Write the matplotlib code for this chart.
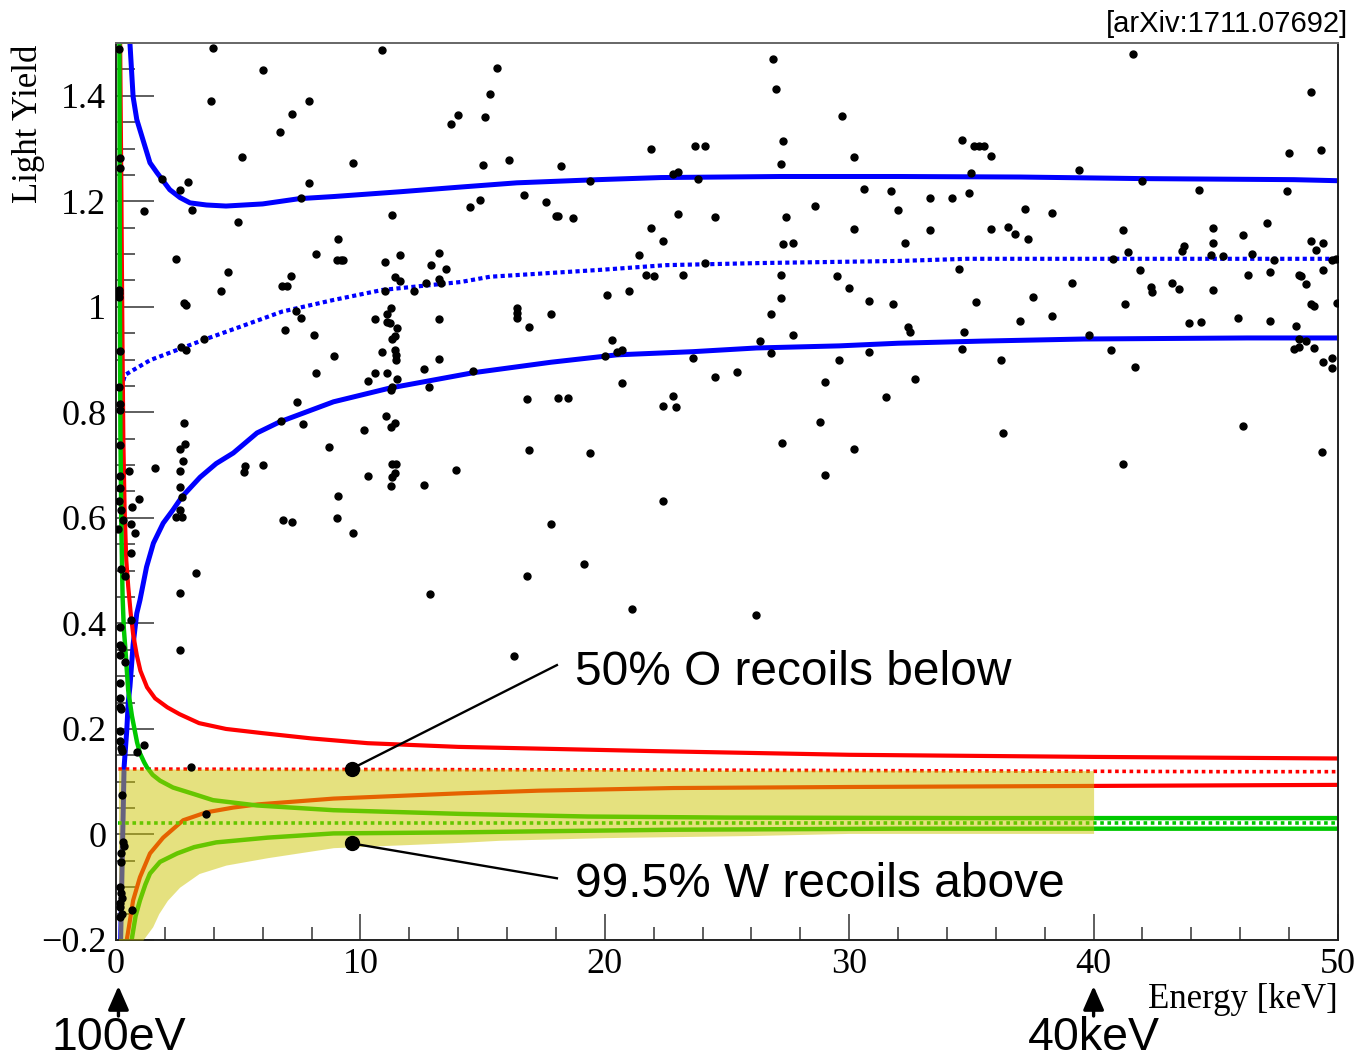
import matplotlib
matplotlib.use('Agg')
import matplotlib.pyplot as plt
from matplotlib.ticker import MultipleLocator, FuncFormatter

# ---------------- data ----------------
energy = [
    # zero-energy column
    0.12, 0.16, 0.16, 0.12, 0.12, 0.12, 0.16, 0.12, 0.16, 0.16, 0.16, 0.16, 0.16, 0.12, 0.20, 0.29,
    0.08, 0.20, 0.37, 0.16, 0.16, 0.25, 0.37, 0.16, 0.16, 0.16, 0.16, 0.20, 0.16, 0.16, 0.20, 0.25,
    0.25, 0.29, 0.33, 0.20, 0.20, 0.16, 0.20, 0.25, 0.16, 0.16, 0.25, 0.16,
    # near zero
    0.55, 0.95, 0.64, 0.60, 0.78, 0.60, 0.60, 1.60, 0.86, 1.15, 0.64, 1.14, 3.07, 3.68,
    # 2-6 keV
    2.78, 2.83, 2.63, 2.74, 2.60, 2.63, 2.70, 2.63, 2.45, 2.70, 3.27, 2.63, 2.63,
    2.78, 2.86, 2.66, 2.86, 3.60, 2.47, 1.88, 2.60, 2.95, 3.10, 3.97, 3.89, 4.30, 4.58,
    4.98, 5.15, 6.00, 5.28, 5.24, 6.00,
    # 6-14 keV
    6.70, 7.20, 7.90, 7.90, 7.55, 9.70, 10.9, 9.10, 8.20, 9.05, 9.20, 9.30, 11.0, 11.6, 13.2, 12.9,
    13.5, 7.16, 6.80, 7.00, 11.4, 11.6, 11.0, 12.2, 12.7, 13.2, 13.3, 7.37, 7.57, 11.25, 11.1, 11.1,
    11.2, 11.5, 10.6, 13.2, 6.90, 8.10, 11.4, 11.3, 11.4, 11.45, 11.45, 10.9, 8.90, 13.2, 8.20, 10.6,
    11.1, 12.6, 10.3, 11.5, 11.25, 11.3, 12.8, 11.3, 13.7, 14.0,
    6.75, 7.40, 7.65, 6.85, 7.20, 8.70, 9.10, 9.05, 9.70, 10.15, 10.3, 11.05, 11.25, 11.4, 11.25,
    11.3, 11.45, 11.3, 11.4, 12.6, 12.85, 13.9,
    # 14-32 keV
    26.9, 15.6, 27.0, 15.3, 15.1, 29.7, 21.9, 23.7, 24.1, 27.3, 30.2, 15.0, 16.1, 18.2, 27.2, 19.4,
    22.8, 23.0, 23.8, 30.6, 31.7, 32.0, 14.5, 14.9, 16.7, 17.6, 18.0, 18.1, 18.7, 28.6, 23.0, 24.5,
    27.4, 21.9, 30.2, 22.4, 27.3, 27.7, 21.4, 24.1, 21.7, 22.0, 23.2, 27.2, 29.5, 30.0, 20.1, 21.0,
    27.2, 30.8, 31.8, 16.4, 16.4, 16.4, 17.8, 16.9, 26.8, 27.7, 20.3, 20.5, 20.7, 26.35, 26.8, 20.0,
    23.6, 30.8, 29.6, 14.6, 24.5, 25.4, 29.0, 20.7, 22.8, 31.5, 16.8, 18.1, 18.5, 22.4, 22.9, 28.8,
    27.25, 30.2, 16.9, 19.4, 29.0, 22.4, 17.8, 19.15, 16.8, 21.1, 26.2, 16.3,
    # 32-50 keV
    41.6, 48.9, 49.3, 48.0, 34.6, 35.1, 35.3, 35.5, 35.8, 39.4, 35.0, 42.0, 47.9, 44.3, 33.3, 34.2,
    34.9, 37.2, 38.3, 33.3, 35.8, 36.5, 36.8, 37.3, 32.3, 41.2, 44.9, 47.1, 44.9, 46.1, 48.9, 49.4,
    41.4, 43.7, 43.6, 49.1, 44.8, 45.3, 46.5, 47.4, 49.75, 49.9, 40.8, 34.5, 41.9, 46.3, 47.2, 48.4,
    48.5, 49.4, 48.7, 39.1, 42.35, 42.4, 43.2, 43.5, 44.9, 35.2, 37.5, 41.3, 48.9, 49.0, 49.96, 37.0,
    38.3, 43.9, 44.4, 45.9, 47.2, 48.3, 32.4, 32.5, 34.7, 39.8, 34.6, 36.2, 40.7, 48.2, 48.4, 48.4,
    48.7, 49.0, 49.4, 49.75, 49.75, 41.7, 32.7, 36.3, 41.2, 46.1, 49.35,
]
light_yield = [
    1.489, 1.282, 1.263, 1.032, 1.026, 1.019, 0.916, 0.848, 0.816, 0.804, 0.738, 0.679, 0.656, 0.632, 0.615, 0.596,
    0.579, 0.503, 0.490, 0.393, 0.359, 0.353, 0.326, 0.340, 0.287, 0.258, 0.241, 0.237, 0.197, 0.178, 0.163, 0.159,
    0.074, -0.015, -0.021, -0.036, -0.053, -0.100, -0.110, -0.120, -0.129, -0.138, -0.150, -0.157,
    0.689, 0.636, 0.620, 0.588, 0.571, 0.533, 0.406, 0.694, 0.156, 0.169, -0.144, 1.182, 0.127, 0.038,
    0.780, 0.740, 0.730, 0.708, 0.689, 0.658, 0.639, 0.615, 0.601, 0.601, 0.495, 0.457, 0.349,
    1.007, 1.004, 0.924, 0.918, 0.939, 1.091, 1.242, 1.222, 1.237, 1.184, 1.491, 1.391, 1.030, 1.066,
    1.161, 1.283, 1.448, 0.698, 0.687, 0.700,
    1.332, 1.366, 1.391, 1.235, 1.207, 1.273, 1.487, 1.129, 1.100, 1.089, 1.089, 1.089, 1.085, 1.098, 1.102, 1.080,
    1.072, 1.059, 1.040, 1.040, 1.057, 1.049, 1.030, 1.030, 1.045, 1.053, 1.045, 0.992, 0.979, 0.998, 0.987, 0.971,
    0.969, 0.960, 0.977, 0.977, 0.956, 0.947, 0.945, 0.939, 0.918, 0.909, 0.899, 0.914, 0.907, 0.901, 0.875, 0.875,
    0.875, 0.882, 0.859, 0.863, 0.842, 0.848, 0.848, 1.174, 1.347, 1.364,
    0.784, 0.820, 0.778, 0.596, 0.592, 0.734, 0.641, 0.600, 0.571, 0.766, 0.679, 0.793, 0.772, 0.780, 0.660,
    0.702, 0.702, 0.677, 0.685, 0.662, 0.455, 0.691,
    1.470, 1.453, 1.412, 1.404, 1.360, 1.362, 1.300, 1.305, 1.305, 1.315, 1.283, 1.269, 1.279, 1.267, 1.271, 1.239,
    1.252, 1.256, 1.243, 1.224, 1.220, 1.184, 1.190, 1.203, 1.212, 1.199, 1.172, 1.172, 1.169, 1.191, 1.176, 1.171,
    1.171, 1.150, 1.148, 1.124, 1.119, 1.121, 1.098, 1.083, 1.061, 1.059, 1.061, 1.061, 1.059, 1.036, 1.023, 1.030,
    1.017, 1.011, 1.005, 0.998, 0.988, 0.979, 0.987, 0.962, 0.987, 0.947, 0.937, 0.914, 0.918, 0.935, 0.913, 0.907,
    0.903, 0.914, 0.899, 0.878, 0.867, 0.876, 0.858, 0.856, 0.831, 0.829, 0.826, 0.828, 0.828, 0.812, 0.810, 0.782,
    0.742, 0.730, 0.729, 0.723, 0.681, 0.632, 0.588, 0.512, 0.489, 0.427, 0.415, 0.338,
    1.480, 1.408, 1.298, 1.292, 1.317, 1.305, 1.305, 1.305, 1.286, 1.260, 1.254, 1.239, 1.220, 1.222, 1.207, 1.207,
    1.216, 1.186, 1.178, 1.146, 1.148, 1.152, 1.138, 1.129, 1.121, 1.146, 1.150, 1.159, 1.121, 1.136, 1.125, 1.121,
    1.104, 1.116, 1.106, 1.108, 1.098, 1.097, 1.100, 1.089, 1.089, 1.091, 1.091, 1.072, 1.070, 1.061, 1.066, 1.061,
    1.059, 1.070, 1.043, 1.045, 1.038, 1.028, 1.045, 1.034, 1.032, 1.009, 1.019, 1.005, 1.005, 1.002, 1.007, 0.973,
    0.983, 0.969, 0.971, 0.979, 0.973, 0.964, 0.962, 0.952, 0.952, 0.947, 0.920, 0.899, 0.918, 0.920, 0.924, 0.939,
    0.935, 0.922, 0.895, 0.903, 0.884, 0.886, 0.863, 0.761, 0.702, 0.774, 0.725,
]

# electron/gamma band (blue)
blue_upper_E = [0.57, 0.7, 0.85, 1.1, 1.39, 1.68, 2.2, 2.62, 3.03, 3.7, 4.5, 6.0, 7.5, 8.9, 11.6, 14.1, 16.4, 19.7, 22.3, 27.2, 32.0, 37.0, 42.0, 48.2, 50.0]
blue_upper_LY = [1.5, 1.398, 1.355, 1.317, 1.273, 1.254, 1.222, 1.207, 1.197, 1.193, 1.191, 1.195, 1.205, 1.209, 1.218, 1.227, 1.235, 1.241, 1.245, 1.247, 1.247, 1.246, 1.243, 1.241, 1.239]
blue_mean_E = [0.3, 0.37, 0.7, 1.4, 2.2, 3.56, 5.07, 6.8, 8.9, 10.9, 14.1, 15.3, 19.8, 22.5, 26.4, 32.1, 34.8, 40.0, 50.0]
blue_mean_LY = [0.860, 0.871, 0.880, 0.899, 0.913, 0.937, 0.962, 0.991, 1.013, 1.032, 1.047, 1.057, 1.070, 1.079, 1.083, 1.087, 1.091, 1.091, 1.091]
blue_lower_E = [0.19, 0.33, 0.44, 0.5, 0.57, 0.7, 0.85, 0.98, 1.25, 1.53, 1.93, 2.33, 2.7, 3.44, 4.1, 4.8, 5.77, 6.7, 8.9, 11.2, 14.6, 17.8, 20.5, 23.6, 26.2, 29.6, 32.0, 35.4, 39.6, 46.3, 50.0]
blue_lower_LY = [-0.2, 0.127, 0.197, 0.25, 0.28, 0.36, 0.419, 0.444, 0.507, 0.552, 0.590, 0.615, 0.640, 0.677, 0.703, 0.723, 0.761, 0.782, 0.820, 0.846, 0.875, 0.895, 0.909, 0.915, 0.922, 0.926, 0.931, 0.935, 0.939, 0.941, 0.941]

# oxygen recoil band (red)
red_upper_E = [0.17, 0.22, 0.26, 0.30, 0.35, 0.42, 0.50, 0.60, 0.70, 0.85, 1.0, 1.27, 1.6, 2.1, 2.6, 3.4, 4.5, 6.0, 8.0, 10.3, 14.0, 17.0, 22.0, 30.0, 40.0, 50.0]
red_upper_LY = [1.5, 1.216, 0.96, 0.75, 0.62, 0.52, 0.47, 0.42, 0.38, 0.34, 0.31, 0.279, 0.258, 0.241, 0.228, 0.211, 0.200, 0.192, 0.182, 0.173, 0.166, 0.163, 0.158, 0.151, 0.147, 0.144]
red_mean_E = [0.1, 24.0, 45.3, 50.0]
red_mean_LY = [0.124, 0.122, 0.119, 0.119]
red_lower_E = [0.44, 0.57, 0.7, 0.98, 1.39, 1.93, 2.75, 3.7, 4.8, 5.8, 8.9, 14.1, 17.3, 22.8, 30.0, 40.0, 50.0]
red_lower_LY = [-0.2, -0.163, -0.125, -0.081, -0.036, -0.006, 0.027, 0.042, 0.051, 0.057, 0.068, 0.078, 0.083, 0.088, 0.090, 0.092, 0.094]

# tungsten recoil band (green)
green_upper_E = [0.14, 0.16, 0.18, 0.22, 0.27, 0.32, 0.37, 0.5, 0.65, 0.86, 0.98, 1.15, 1.27, 1.5, 1.8, 2.33, 3.16, 3.97, 5.77, 8.9, 14.1, 19.3, 25.0, 35.0, 50.0]
green_upper_LY = [1.5, 1.0, 0.76, 0.58, 0.45, 0.39, 0.36, 0.273, 0.225, 0.175, 0.154, 0.137, 0.127, 0.113, 0.102, 0.089, 0.077, 0.065, 0.055, 0.046, 0.039, 0.034, 0.032, 0.031, 0.031]
green_mean_E = [0.1, 50.0]
green_mean_LY = [0.021, 0.021]
green_lower_E = [0.64, 0.8, 0.98, 1.2, 1.39, 1.8, 2.5, 3.2, 4.1, 6.2, 8.9, 14.1, 17.3, 22.8, 32.0, 50.0]
green_lower_LY = [-0.2, -0.155, -0.125, -0.095, -0.074, -0.052, -0.036, -0.024, -0.015, -0.006, 0.002, 0.004, 0.006, 0.009, 0.011, 0.011]

# acceptance region (yellow)
band_E = [0.1, 1.1, 1.5, 1.75, 2.1, 2.6, 3.4, 4.5, 6.2, 8.9, 14.1, 15.7, 20.0, 26.0, 30.0, 40.0]
band_bottom = [-0.2, -0.2, -0.175, -0.15, -0.125, -0.1, -0.074, -0.058, -0.044, -0.025, -0.015, -0.011, -0.006, -0.002, 0.002, 0.002]
band_top = [0.124, 0.124, 0.124, 0.124, 0.124, 0.124, 0.124, 0.124, 0.124, 0.124, 0.124, 0.124, 0.123, 0.122, 0.122, 0.121]

x_ticks = [0, 10, 20, 30, 40, 50]
o_label = "50% O recoils below"
w_label = "99.5% W recoils above"

# ---------------- figure ----------------
W, H = 1359, 1061
plt.rcParams['font.family'] = ['Liberation Serif', 'DejaVu Serif']
fig = plt.figure(figsize=(W / 100, H / 100), dpi=100)
L, R, T, B = 116, 1338, 43, 940
ax = fig.add_axes([L / W, 1 - B / H, (R - L) / W, (B - T) / H])
ax.set_xlim(0, 50)
ax.set_ylim(-0.2, 1.5)

BLUE, RED, GREEN = '#0000ff', '#ff0000', '#00c800'
ax.plot(blue_upper_E, blue_upper_LY, color=BLUE, lw=3.6, zorder=2)
ax.plot(blue_lower_E, blue_lower_LY, color=BLUE, lw=3.6, zorder=2)
ax.plot(blue_mean_E, blue_mean_LY, color=BLUE, lw=3.0, ls=(0, (1, 0.8)), zorder=2)
ax.plot(red_upper_E, red_upper_LY, color=RED, lw=3.0, zorder=2)
ax.plot(red_lower_E, red_lower_LY, color=RED, lw=3.0, zorder=2)
ax.plot(red_mean_E, red_mean_LY, color=RED, lw=2.6, ls=(0, (1, 1)), zorder=2)
ax.plot(green_upper_E, green_upper_LY, color=GREEN, lw=3.2, zorder=2.1)
ax.plot(green_lower_E, green_lower_LY, color=GREEN, lw=3.2, zorder=2.1)
ax.plot(green_mean_E, green_mean_LY, color=GREEN, lw=2.6, ls=(0, (1, 1)), zorder=2.1)

ax.fill_between(band_E, band_bottom, band_top, color='#cdc500', alpha=0.5, lw=0, zorder=3)

ax.plot(energy, light_yield, 'o', ms=5.0, color='black', mec='black', zorder=4)

# ticks
ax.xaxis.set_major_locator(MultipleLocator(10))
ax.xaxis.set_minor_locator(MultipleLocator(2))
ax.yaxis.set_major_locator(MultipleLocator(0.2))
ax.yaxis.set_minor_locator(MultipleLocator(0.05))
ax.set_xticks(x_ticks)


def yfmt(v, p):
    v = round(v, 3)
    if abs(v) < 1e-9:
        return '0'
    return ('%g' % v).replace('-', '\u2212')


ax.yaxis.set_major_formatter(FuncFormatter(yfmt))
ax.tick_params(axis='y', which='major', direction='in', length=27, width=1.1, labelsize=26, pad=7, color='#333333')
ax.tick_params(axis='y', which='minor', direction='in', length=14, width=1.1, color='#333333')
ax.tick_params(axis='x', which='major', direction='in', length=19, width=1.1, labelsize=26, pad=6, color='#333333')
ax.tick_params(axis='x', which='minor', direction='in', length=9.5, width=1.1, color='#333333')
for s in ax.spines.values():
    s.set_linewidth(1.4)
    s.set_color('#222222')
ax.spines['top'].set_color('#666666')

# axis titles
fig.text(28 / W, 1 - 45 / H, 'Light Yield', rotation=90, ha='center', va='top', fontsize=25)
fig.text(1338 / W, 1 - 1008 / H, 'Energy [keV]', ha='right', va='baseline', fontsize=25)
fig.text(1348 / W, 1 - 32 / H, '[arXiv:1711.07692]', ha='right', va='baseline', fontsize=21,
         family=['Liberation Sans', 'DejaVu Sans'])

# annotations
sans = ['Liberation Sans', 'DejaVu Sans']
ax.plot([9.66, 18.04], [0.125, 0.321], color='black', lw=1.7, zorder=5, clip_on=False)
ax.plot([9.66], [0.125], 'o', ms=10, color='black', zorder=5)
ax.text(18.8, 0.283, o_label, ha='left', va='baseline', fontsize=34.5, family=sans, zorder=6)
ax.plot([9.66, 18.04], [-0.017, -0.083], color='black', lw=1.7, zorder=5, clip_on=False)
ax.plot([9.66], [-0.017], 'o', ms=10, color='black', zorder=5)
ax.text(18.8, -0.118, w_label, ha='left', va='baseline', fontsize=34.5, family=sans, zorder=6)

# arrows below the axis
for xv, lab in [(0.1, '100eV'), (40.0, '40keV')]:
    ax.annotate('', xy=(xv, H - 986), xycoords=('data', 'figure pixels'),
                xytext=(xv, H - 1016), textcoords=('data', 'figure pixels'),
                arrowprops=dict(arrowstyle='-|>,head_length=0.8,head_width=0.35', mutation_scale=18,
                                lw=2.4, color='black', shrinkA=0, shrinkB=0))
    ax.annotate(lab, xy=(xv, H - 1050), xycoords=('data', 'figure pixels'),
                ha='center', va='baseline', fontsize=33.5, family=sans, annotation_clip=False)

fig.savefig('out.png', dpi=100)
